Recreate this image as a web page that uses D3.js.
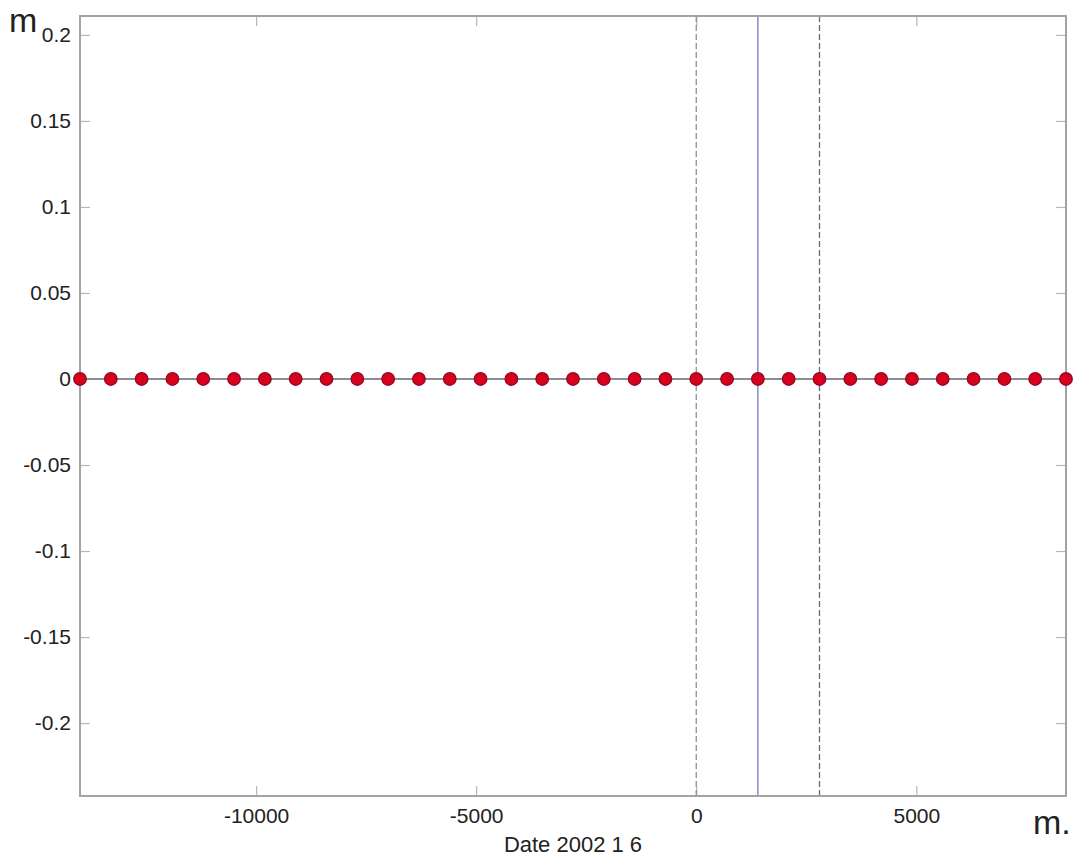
<!DOCTYPE html>
<html>
<head>
<meta charset="utf-8">
<script src="https://cdn.jsdelivr.net/npm/d3@7"></script>
<style>
  html, body { margin: 0; padding: 0; background: #fff; }
  svg { display: block; }
  text { font-family: "Liberation Sans", Arial, sans-serif; fill: #222; }
</style>
</head>
<body>
<svg id="chart" width="1078" height="858"></svg>
<script>
// ---- data ----
const xValues = [-14000, -13300, -12600, -11900, -11200, -10500, -9800, -9100, -8400, -7700,
                 -7000, -6300, -5600, -4900, -4200, -3500, -2800, -2100, -1400, -700,
                 0, 700, 1400, 2100, 2800, 3500, 4200, 4900, 5600, 6300, 7000, 7700, 8400];
const yValues = [0, 0, 0, 0, 0, 0, 0, 0, 0, 0,
                 0, 0, 0, 0, 0, 0, 0, 0, 0, 0,
                 0, 0, 0, 0, 0, 0, 0, 0, 0, 0, 0, 0, 0];
const xTicks = [-10000, -5000, 0, 5000];
const yTicks = [0.2, 0.15, 0.1, 0.05, 0, -0.05, -0.1, -0.15, -0.2];
const xDomain = [-14000, 8400];
const yDomain = [-0.2424, 0.211];
const dashedLines = [0, 2800];
const solidLines = [1400];
const xLabel = "Date 2002 1 6";
const yUnit = "m";
const xUnit = "m.";

// ---- layout ----
const L = 80, R = 1066, T = 16, B = 796;
const svg = d3.select("#chart");
const x = d3.scaleLinear().domain(xDomain).range([L, R]);
const y = d3.scaleLinear().domain(yDomain).range([B, T]);

const g = svg.append("g");

// ticks (inward, both sides)
const axisColor = "#a3a3a3";
const tickLen = 10;
const xAxisB = d3.axisBottom(x).tickValues(xTicks).tickSizeInner(-tickLen).tickSizeOuter(0).tickPadding(12)
  .tickFormat(d => String(d));
const xAxisT = d3.axisTop(x).tickValues(xTicks).tickSizeInner(-tickLen).tickSizeOuter(0).tickFormat("");
const yAxisL = d3.axisLeft(y).tickValues(yTicks).tickSizeInner(-tickLen).tickSizeOuter(0).tickPadding(9)
  .tickFormat(d => d === 0 ? "0" : String(+d.toFixed(2)));
const yAxisR = d3.axisRight(y).tickValues(yTicks).tickSizeInner(-tickLen).tickSizeOuter(0).tickFormat("");

function styleAxis(sel) {
  sel.select(".domain").remove();
  sel.selectAll(".tick line").attr("stroke", "#b8b8b8").attr("stroke-width", 1.2);
  sel.selectAll(".tick text").attr("font-size", 21).attr("fill", "#222")
     .style("font-family", "'Liberation Sans', Arial, sans-serif");
}
g.append("g").attr("transform", `translate(0,${B})`).call(xAxisB).call(styleAxis);
g.append("g").attr("transform", `translate(0,${T})`).call(xAxisT).call(styleAxis);
g.append("g").attr("transform", `translate(${L},0)`).call(yAxisL).call(styleAxis);
g.append("g").attr("transform", `translate(${R},0)`).call(yAxisR).call(styleAxis);

// vertical reference lines
g.selectAll(".vdash").data(dashedLines).join("line")
  .attr("x1", d => x(d)).attr("x2", d => x(d)).attr("y1", T).attr("y2", B)
  .attr("stroke", (d, i) => i === 0 ? "#8a8f9a" : "#6b6b6b")
  .attr("stroke-width", 1.3).attr("stroke-dasharray", "6,3");
g.selectAll(".vsolid").data(solidLines).join("line")
  .attr("x1", d => x(d)).attr("x2", d => x(d)).attr("y1", T).attr("y2", B)
  .attr("stroke", "#4a55a8").attr("stroke-width", 1);

// zero line through the points
const line = d3.line().x((d, i) => x(xValues[i])).y(d => y(d));
g.append("path").datum(yValues).attr("d", line)
  .attr("fill", "none").attr("stroke", "#8c8c94").attr("stroke-width", 2);

// axis box
g.append("rect").attr("x", L).attr("y", T).attr("width", R - L).attr("height", B - T)
  .attr("fill", "none").attr("stroke", axisColor).attr("stroke-width", 2);

// points
g.selectAll(".pt").data(yValues).join("circle")
  .attr("cx", (d, i) => x(xValues[i])).attr("cy", d => y(d)).attr("r", 6.3)
  .attr("fill", "#d6001f").attr("stroke", "#8e0a1e").attr("stroke-width", 1.2);

// labels
svg.append("text").attr("x", (L + R) / 2).attr("y", 852).attr("text-anchor", "middle")
  .attr("font-size", 22).text(xLabel);
svg.append("text").attr("x", 9).attr("y", 32).attr("font-size", 34).text(yUnit);
svg.append("text").attr("x", 1033).attr("y", 834).attr("font-size", 34).text(xUnit);
</script>
</body>
</html>
